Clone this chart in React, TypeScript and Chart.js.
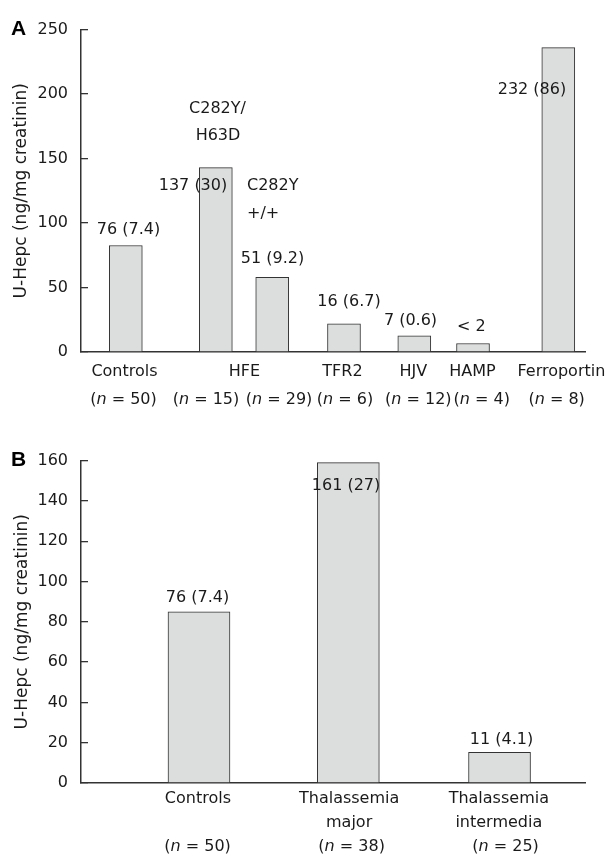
import React, { useEffect, useRef } from 'react';
import { Chart, registerables } from 'chart.js';

Chart.register(...registerables);

// ---------------- Panel A data ----------------
const categoriesA = ['Controls', 'HFE', 'TFR2', 'HJV', 'HAMP', 'Ferroportin'];
const groupsA = ['Controls', 'HFE C282Y/H63D', 'HFE C282Y+/+', 'TFR2', 'HJV', 'HAMP', 'Ferroportin'];
const valuesA = [82.6, 143, 57.9, 21.9, 12.5, 6.6, 236];
const groupNA = [50, 15, 29, 6, 12, 4, 8];
const annotationTextA = ['76 (7.4)', 'C282Y/', 'H63D', '137 (30)', 'C282Y', '+/+', '51 (9.2)', '16 (6.7)', '7 (0.6)', '< 2', '232 (86)'];
const yMaxA = 250;
const yStepA = 50;

// ---------------- Panel B data ----------------
const categoriesB = [['Controls'], ['Thalassemia', 'major'], ['Thalassemia', 'intermedia']];
const groupsB = ['Controls', 'Thalassemia major', 'Thalassemia intermedia'];
const valuesB = [85, 159, 15.2];
const groupNB = [50, 38, 25];
const annotationTextB = ['76 (7.4)', '161 (27)', '11 (4.1)'];
const yMaxB = 160;
const yStepB = 20;

const yTitle = 'U-Hepc (ng/mg creatinin)';

// ---------------- Layout (x in axis units 0-100, y in value units) ----------------
const LAYOUT_A = {
  letter: 'A',
  barX: [8.89, 26.75, 37.94, 52.18, 66.13, 77.78, 94.7],
  barThickness: 33,
  catX: [8.63, 32.44, 51.88, 65.93, 77.68, 95.32],
  catDy: [20, 44],
  nX: [8.43, 24.8, 39.29, 52.38, 66.92, 79.5, 94.38],
  nDy: 48,
  titleX: 22,
  annot: [
    [9.42, 94.8, 'center'],
    [27.08, 188.8, 'center'],
    [27.18, 167.4, 'center'],
    [22.22, 129.2, 'center'],
    [32.94, 129.2, 'left'],
    [32.94, 107, 'left'],
    [38.0, 72.6, 'center'],
    [53.17, 39.2, 'center'],
    [65.38, 24.5, 'center'],
    [77.44, 19.3, 'center'],
    [89.48, 203.4, 'center'],
  ] as [number, number, CanvasTextAlign][],
};

const LAYOUT_B = {
  letter: 'B',
  barX: [23.41, 53.04, 83.04],
  barThickness: 62,
  catX: [23.2, 53.2, 82.9],
  catDy: [16.3, 40.3],
  nX: [23.12, 53.7, 84.23],
  nDy: 64.3,
  titleX: 23,
  annot: [
    [23.12, 91.9, 'center'],
    [52.58, 147.4, 'center'],
    [83.43, 21.4, 'center'],
  ] as [number, number, CanvasTextAlign][],
};

const FAMILY = '"DejaVu Sans", Verdana, sans-serif';
const TEXT = '#1a1a1a';
const AXIS = '#333333';
const FILL = 'rgb(220,221,221)';

function drawMixed(ctx: CanvasRenderingContext2D, parts: [string, boolean][], cx: number, cy: number) {
  const widths: number[] = [];
  let total = 0;
  parts.forEach(([t, it]) => {
    ctx.font = (it ? 'italic ' : '') + '16px ' + FAMILY;
    const w = ctx.measureText(t).width;
    widths.push(w);
    total += w;
  });
  let x = cx - total / 2;
  ctx.textAlign = 'left';
  parts.forEach(([t, it], i) => {
    ctx.font = (it ? 'italic ' : '') + '16px ' + FAMILY;
    ctx.fillText(t, x, cy);
    x += widths[i];
  });
}

function makeConfig(
  groups: string[],
  values: number[],
  yMax: number,
  yStep: number,
  catLines: string[][],
  groupN: number[],
  annotText: string[],
  layout: typeof LAYOUT_A
): any {
  const labelPlugin = {
    id: 'labels',
    afterDraw(chart: any) {
      const ctx: CanvasRenderingContext2D = chart.ctx;
      const xs = chart.scales.x;
      const ys = chart.scales.y;
      const area = chart.chartArea;
      ctx.save();
      ctx.fillStyle = TEXT;
      ctx.textBaseline = 'middle';
      // category labels
      catLines.forEach((lines, i) => {
        lines.forEach((line, j) => {
          ctx.font = '16px ' + FAMILY;
          ctx.textAlign = 'center';
          ctx.fillText(line, xs.getPixelForValue(layout.catX[i]), area.bottom + layout.catDy[j]);
        });
      });
      // group sizes
      groupN.forEach((n, i) => {
        drawMixed(ctx, [['(', false], ['n', true], [' = ' + n + ')', false]], xs.getPixelForValue(layout.nX[i]), area.bottom + layout.nDy);
      });
      // annotations
      annotText.forEach((t, i) => {
        const [ax, ay, al] = layout.annot[i];
        ctx.font = '16px ' + FAMILY;
        ctx.textAlign = al;
        ctx.fillText(t, xs.getPixelForValue(ax), ys.getPixelForValue(ay));
      });
      // y title
      ctx.save();
      ctx.translate(layout.titleX, (area.top + area.bottom) / 2);
      ctx.rotate(-Math.PI / 2);
      ctx.font = '17px ' + FAMILY;
      ctx.textAlign = 'center';
      ctx.fillText(yTitle, 0, 0);
      ctx.restore();
      // panel letter
      ctx.font = 'bold 21px "Liberation Sans", Arial, sans-serif';
      ctx.textAlign = 'left';
      ctx.fillStyle = '#000';
      ctx.fillText(layout.letter, 11, area.top);
      ctx.restore();
    },
  };

  return {
    type: 'bar',
    data: {
      datasets: [
        {
          label: 'U-Hepc',
          data: values.map((v, i) => ({ x: layout.barX[i], y: v, g: groups[i] })),
          backgroundColor: FILL,
          borderColor: AXIS,
          borderWidth: 1,
          barThickness: layout.barThickness,
          grouped: false,
        },
      ],
    },
    options: {
      responsive: false,
      animation: false,
      layout: { padding: { left: 0, right: 21, top: 25, bottom: 0 } },
      plugins: { legend: { display: false }, tooltip: { enabled: false }, title: { display: false } },
      scales: {
        x: {
          type: 'linear',
          min: 0,
          max: 100,
          offset: false,
          grid: { display: false, offset: false },
          border: { display: true, color: AXIS, width: 1.5 },
          ticks: { display: false },
          afterFit: (s: any) => {
            s.height = 78;
          },
        },
        y: {
          type: 'linear',
          min: 0,
          max: yMax,
          ticks: {
            stepSize: yStep,
            padding: 20,
            color: TEXT,
            font: { family: FAMILY, size: 16 },
          },
          grid: { display: true, drawOnChartArea: false, drawTicks: true, tickLength: -7, color: AXIS, lineWidth: 1.3 },
          border: { display: true, color: AXIS, width: 1.5 },
          afterFit: (s: any) => {
            s.width = 81;
          },
        },
      },
    },
    plugins: [labelPlugin],
  };
}

function Panel({ config, top }: { config: any; top: number }) {
  const ref = useRef<HTMLCanvasElement>(null);
  useEffect(() => {
    const chart = new Chart(ref.current as HTMLCanvasElement, config);
    return () => chart.destroy();
  }, []);
  return (
    <canvas
      ref={ref}
      width={606}
      height={430}
      style={{ position: 'absolute', left: 0, top, width: 606, height: 430, display: 'block' }}
    />
  );
}

export default function App() {
  const cfgA = makeConfig(
    groupsA,
    valuesA,
    yMaxA,
    yStepA,
    categoriesA.map((c) => [c]),
    groupNA,
    annotationTextA,
    LAYOUT_A
  );
  const cfgB = makeConfig(groupsB, valuesB, yMaxB, yStepB, categoriesB, groupNB, annotationTextB, LAYOUT_B as any);
  return (
    <div style={{ position: 'absolute', left: 0, top: 0, width: 606, height: 861, background: '#fff' }}>
      <Panel config={cfgA} top={0} />
      <Panel config={cfgB} top={431} />
    </div>
  );
}
